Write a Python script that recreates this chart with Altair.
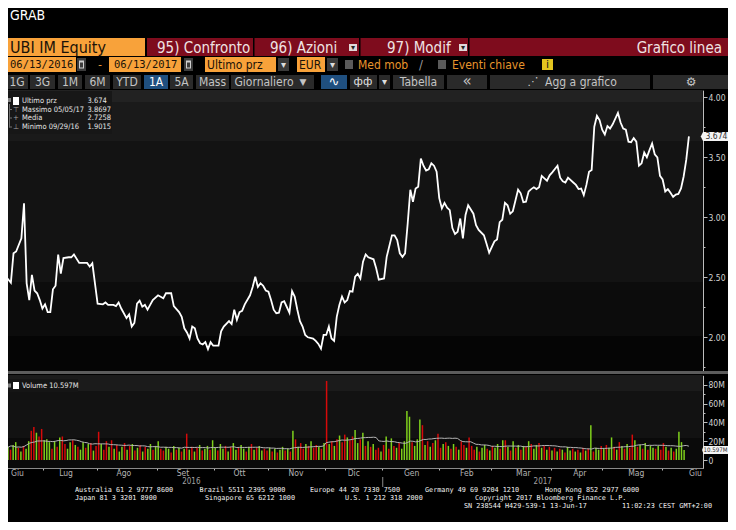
import altair as alt
import numpy as np
import pandas as pd

# ---------------------------------------------------------------- data
START = "2016-06-13"          # trading day 0 ; last trading day = 13 Jun 2017 (261)

price_day = [0, 1, 3, 4, 5, 7, 8, 9, 10, 11, 12, 13, 14, 15, 16, 17, 18, 19, 20, 21,
             22, 23, 25, 26, 27, 29, 31, 32, 33, 34, 36, 38, 39, 40, 42, 43, 44, 45, 47, 48,
             49, 50, 51, 52, 53, 54, 55, 56, 57, 59, 61, 62, 64, 65, 67, 68, 69, 70, 71, 72,
             73, 74, 75, 76, 77, 78, 79, 80, 82, 83, 84, 86, 87, 88, 89, 90, 91, 92, 94, 95,
             96, 97, 98, 99, 100, 101, 102, 103, 104, 105, 106, 107, 109, 110, 111, 112, 113, 114, 115, 116,
             118, 119, 120, 121, 122, 123, 124, 125, 126, 127, 128, 129, 130, 131, 132, 133, 134, 135, 136, 137,
             138, 139, 141, 142, 143, 145, 146, 148, 149, 150, 151, 152, 153, 154, 155, 156, 157, 158, 159, 160,
             161, 162, 163, 164, 165, 166, 167, 168, 169, 170, 171, 172, 173, 174, 175, 176, 177, 179, 180, 181,
             183, 184, 185, 187, 188, 189, 190, 191, 192, 193, 194, 195, 196, 197, 198, 199, 200, 201, 202, 203,
             204, 205, 206, 207, 208, 209, 211, 212, 213, 214, 215, 217, 218, 219, 220, 221, 222, 223, 224, 225,
             226, 227, 228, 229, 230, 231, 232, 234, 235, 236, 237, 238, 239, 240, 241, 242, 243, 244, 245, 246,
             247, 248, 249, 250, 251, 252, 253, 254, 255, 256, 257, 258, 259, 260, 261]
price_val = [2.60, 2.51, 2.455, 2.70, 2.715, 2.825, 3.117, 2.45, 2.31, 2.52, 2.39, 2.367, 2.31, 2.24, 2.275, 2.21, 2.21, 2.40, 2.43, 2.69,
             2.53, 2.66, 2.667, 2.667, 2.69, 2.62, 2.62, 2.62, 2.59, 2.617, 2.28, 2.275, 2.29, 2.27, 2.27, 2.26, 2.29, 2.24, 2.16, 2.19,
             2.09, 2.12, 2.28, 2.305, 2.255, 2.27, 2.23, 2.27, 2.31, 2.35, 2.325, 2.367, 2.367, 2.26, 2.21, 2.17, 2.075, 2.04, 1.99, 2.09,
             2.075, 1.99, 1.95, 1.94, 1.96, 1.9015, 1.96, 1.93, 1.93, 2.05, 2.09, 2.135, 2.11, 2.23, 2.145, 2.21, 2.22, 2.275, 2.35, 2.42,
             2.505, 2.42, 2.45, 2.43, 2.39, 2.38, 2.31, 2.23, 2.20, 2.205, 2.29, 2.30, 2.205, 2.385, 2.34, 2.23, 2.135, 2.09, 2.02, 2.00,
             1.99, 1.97, 1.945, 1.905, 2.02, 2.02, 2.09, 1.99, 1.97, 2.17, 2.27, 2.34, 2.29, 2.31, 2.385, 2.38, 2.505, 2.53, 2.49, 2.63,
             2.69, 2.667, 2.65, 2.575, 2.48, 2.49, 2.67, 2.85, 2.85, 2.81, 2.70, 2.67, 2.70, 2.95, 3.23, 3.13, 3.24, 3.255, 3.49, 3.43,
             3.39, 3.40, 3.45, 3.43, 3.38, 3.16, 3.075, 3.12, 3.08, 3.06, 2.91, 2.86, 2.88, 2.99, 2.825, 3.02, 3.10, 3.03, 2.935, 2.895,
             2.85, 2.78, 2.705, 2.80, 2.815, 2.96, 2.98, 3.12, 3.10, 3.03, 3.05, 3.14, 3.23, 3.20, 3.125, 3.13, 3.215, 3.235, 3.25, 3.235,
             3.25, 3.345, 3.325, 3.305, 3.35, 3.375, 3.43, 3.33, 3.30, 3.29, 3.33, 3.29, 3.27, 3.235, 3.24, 3.185, 3.27, 3.38, 3.395, 3.755,
             3.845, 3.81, 3.73, 3.69, 3.76, 3.74, 3.775, 3.8697, 3.79, 3.74, 3.73, 3.63, 3.625, 3.66, 3.63, 3.43, 3.45, 3.54, 3.50, 3.56,
             3.615, 3.525, 3.50, 3.345, 3.315, 3.215, 3.235, 3.205, 3.17, 3.19, 3.195, 3.24, 3.34, 3.48, 3.674]

# daily volume, millions of shares (one value per trading day 0..261)
volume_m = [14, 11, 16, 19, 13, 9, 15, 12, 20, 31,
            35, 29, 25, 33, 21, 22, 19, 12, 20, 14,
            24, 25, 17, 12, 19, 21, 16, 14, 11, 19,
            13, 17, 18, 10, 15, 30, 17, 11, 20, 14,
            21, 12, 16, 9, 14, 18, 11, 15, 17, 10,
            13, 16, 9, 14, 12, 17, 11, 15, 20, 12,
            10, 14, 12, 8, 15, 11, 13, 9, 12, 28,
            11, 14, 9, 13, 16, 10, 12, 15, 11, 21,
            13, 10, 17, 12, 15, 9, 14, 18, 11, 13,
            16, 12, 9, 14, 17, 11, 13, 15, 10, 12,
            10, 13, 9, 12, 8, 11, 14, 10, 12, 9,
            31, 22, 14, 18, 12, 17, 15, 20, 13, 16,
            14, 12, 18, 84, 17, 20, 15, 22, 26, 19,
            27, 24, 21, 25, 32, 18, 22, 29, 15, 20,
            14, 17, 11, 13, 9, 16, 25, 12, 23, 15,
            13, 18, 12, 20, 52, 46, 19, 15, 22, 43,
            37, 16, 20, 14, 18, 21, 28, 13, 17, 19,
            15, 12, 17, 14, 11, 20, 16, 13, 24, 15,
            11, 14, 9, 13, 16, 12, 10, 15, 13, 17,
            12, 21, 21, 14, 10, 20, 13, 16, 11, 15,
            14, 20, 17, 12, 16, 18, 13, 15, 11, 14,
            10, 13, 9, 12, 11, 8, 14, 10, 12, 9,
            11, 8, 13, 10, 12, 37, 9, 13, 11, 15,
            12, 16, 13, 24, 14, 11, 19, 15, 12, 17,
            13, 27, 21, 14, 16, 12, 18, 11, 15, 13,
            12, 15, 11, 18, 14, 10, 13, 9, 12, 30, 19, 10.597]
# g = up day, r = down day
volume_dir = ("grggrgrggr" "rgrrgggrgr" "grrggrgrgg" "rgrgrrgrrg" "rgrggrgrgr"
              "grgrggrggr" "rggrgrgrgr" "grgrgrggrg" "grggrgrggr" "ggrgrgrggr"
              "rgrgrggrgr" "grgrrgrgrr" "grgrgrgrgr" "rgrrggrgrg" "rgrrgrgrgr"
              "grggggrggg" "rgrgrgrrgr" "grgrgrrgrr" "rgrggrgrgg" "rgrgrgrgrg"
              "rgrggrgrgr" "grgrgrggrg" "rgrgrgrggr" "grggrgrgrg" "rrgrgrgrgg"
              "rgrrgrgrgggg")

month_names = ["Giu", "Lug", "Ago", "Set", "Ott", "Nov", "Dic",
               "Gen", "Feb", "Mar", "Apr", "Mag", "Giu"]
month_first = ["2016-06-01", "2016-07-01", "2016-08-01", "2016-09-01", "2016-10-01",
               "2016-11-01", "2016-12-01", "2017-01-01", "2017-02-01", "2017-03-01",
               "2017-04-01", "2017-05-01", "2017-06-01", "2017-07-01"]
year_names = ["2016", "2017"]
price_ticks = [1.75, 2.0, 2.25, 2.5, 2.75, 3.0, 3.25, 3.5, 3.75, 4.0]
volume_ticks = [0, 10, 20, 30, 40, 50, 60, 70, 80]
last_price = 3.674
last_volume = 10.597
stat_names = ["Ultimo prz", "Massimo 05/05/17", "Media", "Minimo 09/29/16"]
stat_values = ["3.674", "3.8697", "2.7258", "1.9015"]

# ---------------------------------------------------------------- layout / style
OFF = 8  # page margin: window pixel -> chart pixel
W, H = 695, 460
SVG_W, SVG_H = 720, 514
ORANGE, RED, BTN, BLUE = "#f8a23a", "#7e0c1d", "#2a2a2a", "#1f4f7f"
NARROW = ("'Liberation Sans Narrow', 'DejaVu Sans Condensed', 'Noto Sans Condensed', "
          "'Roboto Condensed', Roboto, sans-serif")
MONO = "'DejaVu Sans Mono', 'Liberation Mono', monospace"
SANS = "'DejaVu Sans', sans-serif"

X_DOMAIN = [-1.14, 266.25]
XS = alt.Scale(domain=X_DOMAIN, range=[0 - OFF, 702.7 - OFF], nice=False, zero=False)
PS = alt.Scale(domain=[1.70, 4.06], range=[373.3 - OFF, 90.1 - OFF], nice=False, zero=False)
VS = alt.Scale(domain=[-8.8, 90], range=[468.3 - OFF, 375.3 - OFF], nice=False, zero=False)

# ---------------------------------------------------------------- frames
price_df = pd.DataFrame({"i": price_day, "p": price_val})
vol_df = pd.DataFrame({"i": np.arange(len(volume_m)), "v": volume_m, "d": list(volume_dir)})

start = np.datetime64(START)
m_idx = np.busday_count(start, np.array(month_first, dtype="datetime64[D]"))
m_mid = (m_idx[:-1] + m_idx[1:] - 1) / 2.0
m_mid = np.maximum(m_mid, 5.5)           # keep the first (partial) month label inside the page
month_df = pd.DataFrame({"m": m_mid, "t": month_names})
bounds = [float(b) - 0.5 for b in m_idx[1:-1]]
year_b = float(np.busday_count(start, np.datetime64("2017-01-01"))) - 0.5
year_df = pd.DataFrame({"m": [(X_DOMAIN[0] + year_b) / 2, (year_b + X_DOMAIN[1]) / 2], "t": year_names})
ydiv_df = pd.DataFrame({"b": [year_b]})

# decorative boxes, in window pixels (x0, x1, y0, y1, fill)
rects = [
    (0, 702.7, 90, 102, "#222222"), (0, 702.7, 102, 141, "#1a1a1a"),
    (0, 702.7, 141, 282, "#131313"), (0, 702.7, 282, 336, "#0c0c0c"),
    (0, 702.7, 336, 371, "#050505"),
    (0, 736, 371, 374, "#5c5c5c"),
    (0, 702.7, 375, 391, "#1b1b1b"), (0, 702.7, 391, 438, "#121212"),
    (0, 702.7, 438, 468, "#0a0a0a"),
    # row 1
    (0, 145, 38, 56, ORANGE), (147, 253, 38, 56, RED), (254.5, 359, 38, 56, RED),
    (360.5, 468, 38, 56, RED), (469.5, 734, 38, 56, RED),
    (349, 357, 44, 51, "#e0d8d8"), (459, 467, 44, 51, "#e0d8d8"),
    # row 2
    (0, 76, 57, 72, ORANGE), (77, 86, 58, 71, "#3c3c3c"), (79, 84, 60.5, 68.5, "#cfcfcf"), (80, 83, 62.5, 67.5, "#3c3c3c"),
    (109, 181, 57, 72, ORANGE), (184, 193, 58, 71, "#3c3c3c"), (186, 191, 60.5, 68.5, "#cfcfcf"), (187, 190, 62.5, 67.5, "#3c3c3c"),
    (205, 276, 57, 72, ORANGE), (278, 289, 58, 71, "#3a3a3a"),
    (297, 325, 57, 72, ORANGE), (327, 338, 58, 71, "#3a3a3a"),
    (345, 353, 60, 69, "#5a5a5a"), (438, 446, 60, 69, "#5a5a5a"), (542, 553, 59, 70, "#e3c41f"),
    # row 3
    (2, 28, 75, 89, BTN), (30, 55, 75, 89, BTN), (58, 82, 75, 89, BTN), (85, 110, 75, 89, BTN),
    (113, 141, 75, 89, BTN), (144, 168, 75, 89, BLUE), (170, 193, 75, 89, BTN), (196, 229, 75, 89, BTN),
    (231, 314, 75, 89, BTN), (321, 347, 75, 89, BLUE), (350, 377, 75, 89, BTN), (379, 390, 75, 89, BTN),
    (393, 444, 75, 89, BTN), (447, 487, 75, 89, BTN), (490, 650, 75, 89, BTN), (653, 732, 75, 89, BTN),
    # legends
    (4, 112, 91, 134, "#171717"), (8, 11, 98, 102, "#808080"), (13, 19, 97, 105, "#ffffff"),
    (9, 10, 104, 127.5, "#707070"), (9, 12, 109, 110, "#707070"), (9, 12, 117.5, 118.5, "#707070"),
    (9, 12, 126.5, 127.5, "#707070"),
    (5, 78, 379, 392, "#151515"), (8, 11, 383.5, 387.5, "#808080"), (13, 19, 382, 389, "#ffffff"),
]
rect_df = pd.DataFrame(rects, columns=["x", "x2", "y", "y2", "f"])
for c in ["x", "x2", "y", "y2"]:
    rect_df[c] = rect_df[c] - OFF

LBL = "#e6e6e6"
FT = "#f2f2f2"
FS = 6.8
texts = [
    (10, 16, "GRAB", "#ffffff", 14, "N", "left"),
    (10, 47.5, "UBI IM Equity", "#1a1208", 16, "N", "left"),
    (157, 47.5, "95) Confronto", "#efe3e3", 15, "N", "left"),
    (270, 47.5, "96) Azioni", "#efe3e3", 15, "N", "left"),
    (387, 47.5, "97) Modif", "#efe3e3", 15, "N", "left"),
    (722, 47.5, "Grafico linea", "#efe3e3", 15, "N", "right"),
    (353, 47.5, "▾", "#222222", 8, "S", "center"),
    (463, 47.5, "▾", "#222222", 8, "S", "center"),
    (10, 65, "06/13/2016", "#1a1208", 10.5, "M", "left"),
    (100, 65, "-", ORANGE, 11, "M", "center"),
    (114, 65, "06/13/2017", "#1a1208", 10.5, "M", "left"),
    (207, 65, "Ultimo prz", "#1a1208", 12, "N", "left"),
    (299, 65, "EUR", "#1a1208", 12, "N", "left"),
    (283.5, 65, "▾", "#dddddd", 10, "S", "center"),
    (332.5, 65, "▾", "#dddddd", 10, "S", "center"),
    (358, 64.5, "Med mob", "#e8952c", 12, "N", "left"),
    (421, 64.5, "/", "#9a9a9a", 13, "N", "center"),
    (452, 64.5, "Eventi chiave", "#e8952c", 12, "N", "left"),
    (547.5, 64.5, "i", "#1a1a1a", 11, "S", "center"),
    (17, 82, "1G", "#c4c4c4", 12, "N", "center"),
    (42.5, 82, "3G", "#c4c4c4", 12, "N", "center"),
    (70, 82, "1M", "#c4c4c4", 12, "N", "center"),
    (97.5, 82, "6M", "#c4c4c4", 12, "N", "center"),
    (127, 82, "YTD", "#c4c4c4", 12, "N", "center"),
    (156, 82, "1A", "#ffffff", 12, "N", "center"),
    (181.5, 82, "5A", "#c4c4c4", 12, "N", "center"),
    (212.5, 82, "Mass", "#c4c4c4", 12, "N", "center"),
    (264, 82, "Giornaliero", "#c4c4c4", 12, "N", "center"),
    (303, 82, "▼", "#c4c4c4", 9, "S", "center"),
    (334, 82, "∿", "#ffffff", 13, "S", "center"),
    (363, 82, "фф", "#e0e0e0", 11, "S", "center"),
    (384.5, 82, "▾", "#dddddd", 10, "S", "center"),
    (418.5, 82, "Tabella", "#c4c4c4", 12, "N", "center"),
    (467, 81, "«", "#c4c4c4", 15, "S", "center"),
    (533, 82, "⋰", "#d0d0d0", 11, "S", "center"),
    (581, 82, "Agg a grafico", "#c4c4c4", 12, "N", "center"),
    (691, 82, "⚙", "#c4c4c4", 12, "S", "center"),
    # price legend
    (22, 101, stat_names[0], LBL, 7.5, "N", "left"),
    (22, 109.5, stat_names[1], LBL, 7.5, "N", "left"),
    (22, 118, stat_names[2], LBL, 7.5, "N", "left"),
    (22, 126.5, stat_names[3], LBL, 7.5, "N", "left"),
    (87.5, 101, stat_values[0], LBL, 7.5, "N", "left"),
    (87.5, 109.5, stat_values[1], LBL, 7.5, "N", "left"),
    (87.5, 118, stat_values[2], LBL, 7.5, "N", "left"),
    (87.5, 126.5, stat_values[3], LBL, 7.5, "N", "left"),
    (16, 109.5, "⊤", "#a0a0a0", 7, "S", "center"),
    (16, 118, "+", "#a0a0a0", 7, "S", "center"),
    (16, 126.5, "⊥", "#a0a0a0", 7, "S", "center"),
    (22, 385.5, "Volume 10.597M", LBL, 7.5, "N", "left"),
    # footer
    (75, 490, "Australia 61 2 9777 8600", FT, FS, "M", "left"),
    (199.5, 490, "Brazil 5511 2395 9000", FT, FS, "M", "left"),
    (310, 490, "Europe 44 20 7330 7500", FT, FS, "M", "left"),
    (425, 490, "Germany 49 69 9204 1210", FT, FS, "M", "left"),
    (545, 490, "Hong Kong 852 2977 6000", FT, FS, "M", "left"),
    (75, 498, "Japan 81 3 3201 8900", FT, FS, "M", "left"),
    (205, 498, "Singapore 65 6212 1000", FT, FS, "M", "left"),
    (345, 498, "U.S. 1 212 318 2000", FT, FS, "M", "left"),
    (475, 498, "Copyright 2017 Bloomberg Finance L.P.", FT, FS, "M", "left"),
    (464, 506, "SN 238544 H429-539-1 13-Jun-17", FT, FS, "M", "left"),
    (622, 506, "11:02:23 CEST GMT+2:00", FT, FS, "M", "left"),
]
text_df = pd.DataFrame(texts, columns=["x", "y", "t", "c", "s", "font", "align"])
text_df["x"] = text_df["x"] - OFF
text_df["y"] = text_df["y"] - OFF
FONTS = {"N": NARROW, "M": MONO, "S": SANS}

# ---------------------------------------------------------------- layers
NOAX = dict(axis=None)

bg = alt.Chart(rect_df).mark_rect().encode(
    x=alt.X("x:Q", scale=None, **NOAX), x2="x2:Q",
    y=alt.Y("y:Q", scale=None, **NOAX), y2="y2:Q",
    color=alt.Color("f:N", scale=None))

minor_test = "datum.value * 2 != round(datum.value * 2)"
price_axis = alt.Axis(orient="right", values=price_ticks, title=None, grid=False,
                      labelExpr="datum.value * 2 == round(datum.value * 2) ? format(datum.value, '.2f') : ''",
                      tickSize={"condition": {"test": minor_test, "value": 2}, "value": 4},
                      domainColor="#bdbdbd", tickColor="#bdbdbd", labelColor="#d2d2d2",
                      labelFont=NARROW, labelFontSize=8.5, labelPadding=1, labelOverlap=False)
vol_test = "datum.value % 20 != 0"
vol_axis = alt.Axis(orient="right", values=volume_ticks, title=None, grid=False,
                    labelExpr="datum.value % 20 == 0 ? (datum.value == 0 ? '0' : datum.value + 'M') : ''",
                    tickSize={"condition": {"test": vol_test, "value": 2}, "value": 4},
                    domainColor="#bdbdbd", tickColor="#bdbdbd", labelColor="#d2d2d2",
                    labelFont=NARROW, labelFontSize=8.5, labelPadding=1, labelOverlap=False)
x_axis = alt.Axis(orient="bottom", values=bounds, labels=False, title=None, grid=False,
                  tickSize=2, domainColor="#8a8a8a", tickColor="#bdbdbd")

bars = alt.Chart(vol_df).mark_bar(size=1.5).encode(
    x=alt.X("i:Q", scale=XS, axis=x_axis),
    y=alt.Y("v:Q", scale=VS, axis=vol_axis),
    y2=alt.datum(0),
    color=alt.Color("d:N", scale=alt.Scale(domain=["g", "r"], range=["#7fd01c", "#d60a0a"]), legend=None))

ma = alt.Chart(vol_df).transform_window(
    ma="mean(v)", frame=[-19, 0], sort=[alt.SortField("i")]
).mark_line(color="#b4b4b4", strokeWidth=1).encode(
    x=alt.X("i:Q", scale=XS, **NOAX), y=alt.Y("ma:Q", scale=VS, **NOAX))

line = alt.Chart(price_df).mark_line(color="#ffffff", strokeWidth=1.8).encode(
    x=alt.X("i:Q", scale=XS, **NOAX), y=alt.Y("p:Q", scale=PS, axis=price_axis))

months = alt.Chart(month_df).mark_text(font=NARROW, fontSize=8.5, color="#b4b4b4", baseline="middle").encode(
    x=alt.X("m:Q", scale=XS, **NOAX), y=alt.value(472.5 - OFF), text="t:N")
years = alt.Chart(year_df).mark_text(font=NARROW, fontSize=8, color="#a0a0a0", baseline="middle").encode(
    x=alt.X("m:Q", scale=XS, **NOAX), y=alt.value(482 - OFF), text="t:N")
ydiv = alt.Chart(ydiv_df).mark_rule(color="#8a8a8a").encode(
    x=alt.X("b:Q", scale=XS, **NOAX), y=alt.value(477 - OFF), y2=alt.value(487 - OFF))

tag_path = "M -1.15 0 L -1 -0.3 L 1 -0.3 L 1 0.3 L -1 0.3 Z"
ptag_df = pd.DataFrame({"p": [last_price], "t": [f"{last_price:.3f}"]})
ptag = alt.Chart(ptag_df).mark_point(shape=tag_path, size=900, filled=True, color="#f4f4f4", opacity=1).encode(
    x=alt.value(718 - OFF), y=alt.Y("p:Q", scale=PS, **NOAX))
ptxt = alt.Chart(ptag_df).mark_text(font=NARROW, fontSize=8.5, color="#303030", align="left", baseline="middle").encode(
    x=alt.value(705.5 - OFF), y=alt.Y("p:Q", scale=PS, **NOAX), text="t:N")
vtag_df = pd.DataFrame({"v": [last_volume], "t": [f"{last_volume:.3f}M"]})
vtag = alt.Chart(vtag_df).mark_point(shape="M -1.1 0 L -1 -0.28 L 1 -0.28 L 1 0.28 L -1 0.28 Z", size=841,
                                      filled=True, color="#f4f4f4", opacity=1).encode(
    x=alt.value(718 - OFF), y=alt.Y("v:Q", scale=VS, **NOAX))
vtxt = alt.Chart(vtag_df).mark_text(font=NARROW, fontSize=6.1, color="#303030", align="left", baseline="middle").encode(
    x=alt.value(703.5 - OFF), y=alt.Y("v:Q", scale=VS, **NOAX), text="t:N")

text_layers = []
for (fk, al), sub in text_df.groupby(["font", "align"]):
    text_layers.append(
        alt.Chart(sub.drop(columns=["font", "align"])).mark_text(font=FONTS[fk], align=al, baseline="middle").encode(
            x=alt.X("x:Q", scale=None, **NOAX), y=alt.Y("y:Q", scale=None, **NOAX),
            text="t:N", color=alt.Color("c:N", scale=None), size=alt.Size("s:Q", scale=None)))

chart = alt.layer(bg, bars, ma, line, months, years, ydiv, ptag, ptxt, vtag, vtxt, *text_layers).resolve_scale(
    x="independent", y="independent", color="independent", size="independent"
).properties(
    width=W, height=H,
    padding={"left": 0, "top": 0, "right": SVG_W - W, "bottom": SVG_H - H},
    autosize=alt.AutoSizeParams(type="none"),
    background="#000000",
).configure_view(stroke="transparent")

chart.save("out.html", embed_options={"renderer": "svg", "actions": False})
